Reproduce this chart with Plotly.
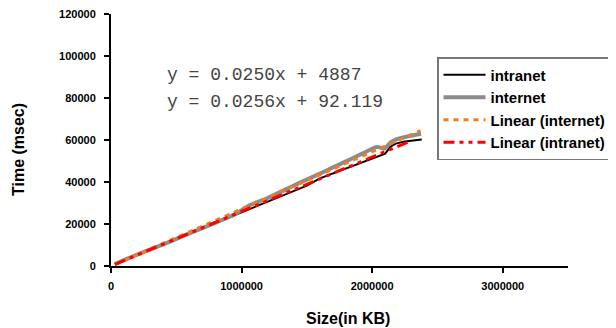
import plotly.graph_objects as go

# ---- data ----
size_intranet = [30000, 130000, 250000, 400000, 550000, 700000, 850000, 950000, 1060000,
                 1200000, 1350000, 1500000, 1600000, 1750000, 1900000, 1990000, 2100000,
                 2140000, 2180000, 2250000, 2380000]
time_intranet = [800, 3500, 6500, 10200, 14000, 17800, 21600, 24000, 27100,
                 30700, 34500, 38300, 41700, 45300, 48800, 51000, 53500,
                 56800, 58300, 59300, 60200]

size_internet = [30000, 130000, 250000, 400000, 550000, 700000, 850000, 950000, 1060000,
                 1200000, 1443000, 1600000, 1750000, 1850000, 1950000, 2030000, 2060000,
                 2095000, 2140000, 2180000, 2285000, 2375000]
time_internet = [900, 3600, 6600, 10300, 14200, 18000, 21900, 24600, 28900,
                 32400, 39600, 44000, 48400, 51300, 54300, 56600, 56500,
                 55900, 58800, 60200, 61900, 63000]

trend_internet_x = [30000, 2370000]
trend_internet_y = [700, 64500]
trend_intranet_x = [30000, 2290000]
trend_intranet_y = [800, 59400]

eq_labels = ["y = 0.0250x + 4887", "y = 0.0256x + 92.119"]

x_ticks = [0, 1000000, 2000000, 3000000]
y_ticks = [0, 20000, 40000, 60000, 80000, 100000, 120000]

FONT = "Liberation Sans, Arial, Helvetica, sans-serif"
MONO = "Liberation Mono, Courier New, monospace"

fig = go.Figure()
fig.add_trace(go.Scatter(x=size_intranet, y=time_intranet, mode="lines", name="intranet",
                         line=dict(color="black", width=2), legendgroup="a"))
fig.add_trace(go.Scatter(x=size_internet, y=time_internet, mode="lines", name="internet",
                         line=dict(color="#8c8c8c", width=4, shape="spline", smoothing=0.6),
                         legendgroup="b"))
fig.add_trace(go.Scatter(x=trend_internet_x, y=trend_internet_y, mode="lines",
                         name="Linear (internet)",
                         line=dict(color="#f47b20", width=3, dash="5px,5px"), legendgroup="c"))
fig.add_trace(go.Scatter(x=trend_intranet_x, y=trend_intranet_y, mode="lines",
                         name="Linear (intranet)",
                         line=dict(color="#ff0000", width=3, dash="11px,5px,4px,5px,4px,5px"),
                         legendgroup="d"))

# the page body has an 8px margin, so the figure starts at (8, 8)
OFF = 8
W, H = 616 - OFF, 328 - OFF
PL, PR, PT, PB = 111, 568, 14, 266      # plot area in page pixels
L, T = PL - OFF, PT - OFF
R = W - (PR - OFF)
B = H - (PB - OFF)

fig.update_layout(
    width=W, height=H,
    margin=dict(l=L, r=R, t=T, b=B, autoexpand=False),
    paper_bgcolor="white", plot_bgcolor="white",
    font=dict(family=FONT, color="black"),
    showlegend=True,
    legend=dict(xref="container", yref="container", x=(437 - OFF) / W, y=1 - (57 - OFF) / H,
                xanchor="left", yanchor="top", itemwidth=42,
                bordercolor="#777777", borderwidth=1.5, bgcolor="white",
                font=dict(family=FONT, size=15, color="black", weight="bold"),
                tracegroupgap=0, traceorder="grouped"),
    xaxis=dict(range=[0, 3500000], tickvals=x_ticks, ticktext=[str(v) for v in x_ticks],
               showgrid=False, zeroline=False, showline=True, linecolor="black", linewidth=2,
               ticks="outside", ticklen=5, tickwidth=2, tickcolor="black", automargin=False,
               tickfont=dict(family=FONT, size=11, color="black", weight="bold"),
               ticklabelstandoff=4, ticklabeloverflow="allow"),
    yaxis=dict(range=[0, 120000], tickvals=y_ticks, ticktext=[str(v) for v in y_ticks],
               showgrid=False, zeroline=False, showline=True, linecolor="black", linewidth=2,
               ticks="outside", ticklen=5, tickwidth=2, tickcolor="black", automargin=False,
               tickfont=dict(family=FONT, size=11, color="black", weight="bold"),
               ticklabelstandoff=6, ticklabeloverflow="allow"),
)

pw, ph = PR - PL, PB - PT
def px(xp):
    return (xp - PL) / pw
def py(yp):
    return (PB - yp) / ph

annotations = [
    dict(text="<b>Time (msec)</b>", textangle=-90, x=px(18), y=py(150), xref="paper", yref="paper",
         xanchor="center", yanchor="middle",
         showarrow=False, font=dict(family=FONT, size=16, color="black")),
    dict(text="<b>Size(in KB)</b>", x=px(348), y=py(318), xref="paper", yref="paper",
         xanchor="center", yanchor="middle",
         showarrow=False, font=dict(family=FONT, size=16, color="black")),
    dict(text=eq_labels[0], x=px(165), y=py(75), xref="paper", yref="paper",
         xanchor="left", yanchor="middle",
         showarrow=False, font=dict(family=MONO, size=18, color="#444444")),
    dict(text=eq_labels[1], x=px(165), y=py(102), xref="paper", yref="paper",
         xanchor="left", yanchor="middle",
         showarrow=False, font=dict(family=MONO, size=18, color="#444444")),
]
fig.update_layout(annotations=annotations)

fig.write_html("out.html")
